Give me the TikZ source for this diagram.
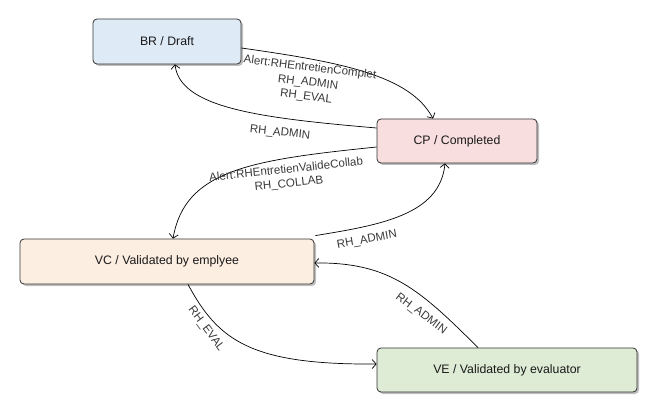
\documentclass[tikz,border=0pt]{standalone}
\usepackage{fontspec}
\setmainfont{Liberation Sans}
\usetikzlibrary{arrows.meta,shadows}
\definecolor{brfill}{HTML}{DFEAF7}
\definecolor{cpfill}{HTML}{F8DEDE}
\definecolor{vcfill}{HTML}{FDEEE2}
\definecolor{vefill}{HTML}{DEECD6}
\definecolor{lbl}{HTML}{3A3A3A}
\tikzset{
  state/.style={draw=black!80, line width=0.8pt, rounded corners=4pt, inner sep=0pt,
    font=\fontsize{12.3}{14}\selectfont, text=black!90,
    drop shadow={shadow xshift=2pt, shadow yshift=-2pt, fill=black, opacity=0.25}},
  trans/.style={draw=black, line width=0.7pt, -{Straight Barb[length=4pt,width=9pt]}},
  elabel/.style={font=\fontsize{11.6}{13}\selectfont, text=lbl, inner sep=0pt}
}
\begin{document}
\begin{tikzpicture}[x=1pt,y=-1pt]
\useasboundingbox (0,0) rectangle (657,412);
\node[state, fill=brfill, minimum width=148pt, minimum height=45pt] (BR) at (167,41.5) {BR / Draft};
\node[state, fill=cpfill, minimum width=160pt, minimum height=44pt] (CP) at (457,141) {CP / Completed};
\node[state, fill=vcfill, minimum width=294pt, minimum height=45pt] (VC) at (167,261.5) {VC / Validated by emplyee};
\node[state, fill=vefill, minimum width=260pt, minimum height=44pt] (VE) at (507,370) {VE / Validated by evaluator};

% BR -> CP
\draw[trans] ([yshift=-6.5pt]BR.east) .. controls (340,62) and (410,75) .. ([xshift=-24pt]CP.north);
% CP -> BR
\draw[trans] ([yshift=13pt]CP.west) .. controls (260,118) and (180,108) .. ([xshift=8pt]BR.south);
% CP -> VC
\draw[trans] ([yshift=-6pt]CP.west) .. controls (250,160) and (185,170) .. ([xshift=6pt]VC.north);
% VC -> CP
\draw[trans] ([xshift=1pt,yshift=3pt]VC.north east) .. controls (380,225) and (440,215) .. ([xshift=-12pt]CP.south);
% VE -> VC
\draw[trans] ([xshift=-29pt]VE.north) .. controls (420,290) and (390,262) .. ([yshift=-1.5pt]VC.east);
% VC -> VE
\draw[trans] ([xshift=21pt]VC.south) .. controls (218,340) and (250,365) .. ([yshift=6pt]VE.west);

\node[elabel, rotate=-7] (l1a) at (310,68) {Alert:RHEntretienComplet};
\node[elabel, rotate=-7] (l1b) at (308,83) {RH\_ADMIN};
\node[elabel, rotate=-7] (l1c) at (306,97) {RH\_EVAL};
\node[elabel, rotate=-6] (l2) at (280,133) {RH\_ADMIN};
\node[elabel, rotate=6] (l3a) at (286,169) {Alert:RHEntretienValideCollab};
\node[elabel, rotate=6] (l3b) at (289,184) {RH\_COLLAB};
\node[elabel, rotate=10] (l4) at (367,240) {RH\_ADMIN};
\node[elabel, rotate=-37] (l5) at (421,314) {RH\_ADMIN};
\node[elabel, rotate=-53] (l6) at (206,329) {RH\_EVAL};
\end{tikzpicture}
\end{document}
